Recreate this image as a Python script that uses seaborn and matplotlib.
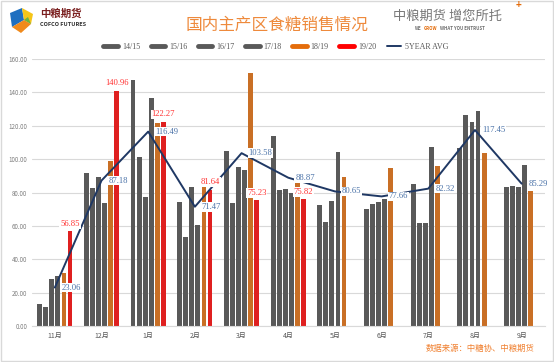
import numpy as np
import pandas as pd
import matplotlib
matplotlib.use("Agg")
import matplotlib.pyplot as plt
from matplotlib.lines import Line2D
from matplotlib.patches import Polygon, Rectangle
import seaborn as sns

# ===== données =====
months = ['11月', '12月', '1月', '2月', '3月', '4月', '5月', '6月', '7月', '8月', '9月']
seasons = ['14/15', '15/16', '16/17', '17/18', '18/19', '19/20']
v_1415 = [13.2, 91.9, 147.4, 74.5, 104.7, 114.0, 72.5, 70.1, 85.1, 106.5, 83.5]
v_1516 = [11.4, 82.5, 101.0, 53.2, 73.7, 81.3, 62.1, 73.1, 61.7, 126.4, 83.9]
v_1617 = [28.0, 89.3, 77.1, 83.5, 95.5, 81.9, 74.7, 74.5, 61.7, 122.0, 83.3]
v_1718 = [30.2, 73.9, 136.4, 60.5, 93.5, 79.9, 104.1, 76.1, 107.4, 128.8, 96.5]
v_1819 = [31.6, 99.0, 121.8, 84.0, 151.4, 87.0, 89.5, 94.5, 95.9, 103.6, 80.9]
v_1920 = [56.85, 140.96, 122.27, 81.64, 75.23, 75.82, np.nan, np.nan, np.nan, np.nan, np.nan]
avg_5y = [23.06, 87.18, 116.49, 71.47, 103.58, 88.87, 80.65, 77.66, 82.32, 117.45, 85.29]

gray = '#595959'
orange = '#E46C0A'
red = '#FF0000'
navy = '#1F3864'
palette = [gray, gray, gray, gray, orange, red]

# table longue pour seaborn
rows = []
for s, vals in zip(seasons, [v_1415, v_1516, v_1617, v_1718, v_1819, v_1920]):
    for m, v in zip(months, vals):
        rows.append({'mois': m, 'saison': s, 'valeur': v})
df = pd.DataFrame(rows).dropna()

sns.set_theme(style="white")
plt.rcParams['font.family'] = ['Noto Sans CJK SC', 'DejaVu Sans']
serif = ['Liberation Serif', 'DejaVu Serif']

fig = plt.figure(figsize=(5.54, 3.62), dpi=100)
ax = fig.add_axes([31.5 / 554, 1 - 326 / 362, (545 - 31.5) / 554, (326 - 59) / 362])

sns.barplot(data=df, x='mois', y='valeur', hue='saison', order=months, hue_order=seasons,
            palette=palette, width=0.78, gap=0.2, linewidth=0, legend=False, ax=ax, zorder=2)

# moyenne 5 ans
ax.plot(np.arange(len(months)), avg_5y, color=navy, lw=1.4, zorder=3)

# étiquettes 19/20
red_bars = ax.containers[5]
lbls = ax.bar_label(red_bars, fmt='%.2f', padding=2.5, color='#FF3333', fontsize=6.2, family=serif, zorder=5)
for t in lbls:
    t.set_bbox(dict(fc='white', ec='none', pad=0.6))

# étiquettes moyenne
for i, v in enumerate(avg_5y):
    ax.annotate(f'{v:.2f}', (i, v), xytext=(5, 0), textcoords='offset points', ha='left', va='center',
                fontsize=6.2, color='#4A72A8', family=serif, zorder=6,
                bbox=dict(fc='white', ec='none', pad=0.6))

ax.set_ylim(0, 160)
ax.set_xlim(-0.5, len(months) - 0.5)
ax.set_yticks(np.arange(0, 161, 20))
ax.set_yticklabels([f'{t:.2f}' for t in np.arange(0, 161, 20)], fontsize=4.5, color='#7F7F7F')
ax.tick_params(axis='x', labelsize=5, colors='#595959', length=0, pad=4)
ax.tick_params(axis='y', length=0, pad=3)
ax.set_xlabel('')
ax.set_ylabel('')
ax.grid(axis='y', color='#D9D9D9', lw=0.8, zorder=0)
ax.set_axisbelow(True)
for sp in ['top', 'right', 'left']:
    ax.spines[sp].set_visible(False)
ax.spines['bottom'].set_color('#D9D9D9')
ax.spines['bottom'].set_linewidth(0.8)

# légende
handles = [Line2D([], [], color=c, lw=3.5) for c in palette] + [Line2D([], [], color=navy, lw=1.4)]
labels = seasons + ['5YEAR AVG']
fig.legend(handles, labels, loc='center', bbox_to_anchor=(276 / 554, 1 - 47 / 362), ncol=7,
           frameon=False, prop={'family': serif, 'size': 5.8}, labelcolor='#595959',
           handlelength=1.8, handletextpad=0.5, columnspacing=1.3)

# titre
fig.text(277 / 554, 1 - 25 / 362, '国内主产区食糖销售情况', ha='center', va='center',
         fontsize=12, color='#EE8A3C')

# logo gauche
def px(x, y):
    return (x / 554, 1 - y / 362)

fig.add_artist(Polygon([px(10, 13), px(22, 8), px(24, 20), px(12, 27)], closed=True,
                       fc='#1E6FC0', ec='none', transform=fig.transFigure))
fig.add_artist(Polygon([px(22, 8), px(33, 14), px(31, 24), px(24, 20)], closed=True,
                       fc='#F5C518', ec='none', transform=fig.transFigure))
fig.add_artist(Polygon([px(12, 27), px(24, 20), px(31, 24), px(21, 33)], closed=True,
                       fc='#F08A1C', ec='none', transform=fig.transFigure))
fig.add_artist(Polygon([px(24, 20), px(31, 24), px(28, 17)], closed=True,
                       fc='#6DB33F', ec='none', transform=fig.transFigure))
fig.text(*px(40, 14), '中粮期货', ha='left', va='center', fontsize=7.5, fontweight='bold', color='#7A1F1F')
fig.text(*px(40, 24), 'COFCO FUTURES', ha='left', va='center', fontsize=4, fontweight='bold', color='#333333')

# logo droite
fig.text(*px(393, 16), '中粮期货 增您所托', ha='left', va='center', fontsize=9.5, color='#777777',
         fontweight='light')
fig.text(*px(415, 28), 'WE', ha='left', va='center', fontsize=3.2, color='#6E6E6E', fontweight='bold')
fig.text(*px(424, 28), 'GROW', ha='left', va='center', fontsize=3.2, color='#E46C0A', fontweight='bold')
fig.text(*px(440, 28), 'WHAT YOU ENTRUST', ha='left', va='center', fontsize=3.2, color='#6E6E6E', fontweight='bold')
fig.text(*px(519, 5), '+', ha='center', va='center', fontsize=7, color='#E46C0A', fontweight='bold')

# source
fig.text(*px(535, 348), '数据来源：中糖协、中粮期货', ha='right', va='center', fontsize=6, color='#F08030')

# cadre
fig.add_artist(Rectangle((0.002, 0.002), 0.996, 0.996, fill=False, ec='#D9D9D9', lw=1,
                         transform=fig.transFigure))

fig.savefig('out.png', dpi=100)
